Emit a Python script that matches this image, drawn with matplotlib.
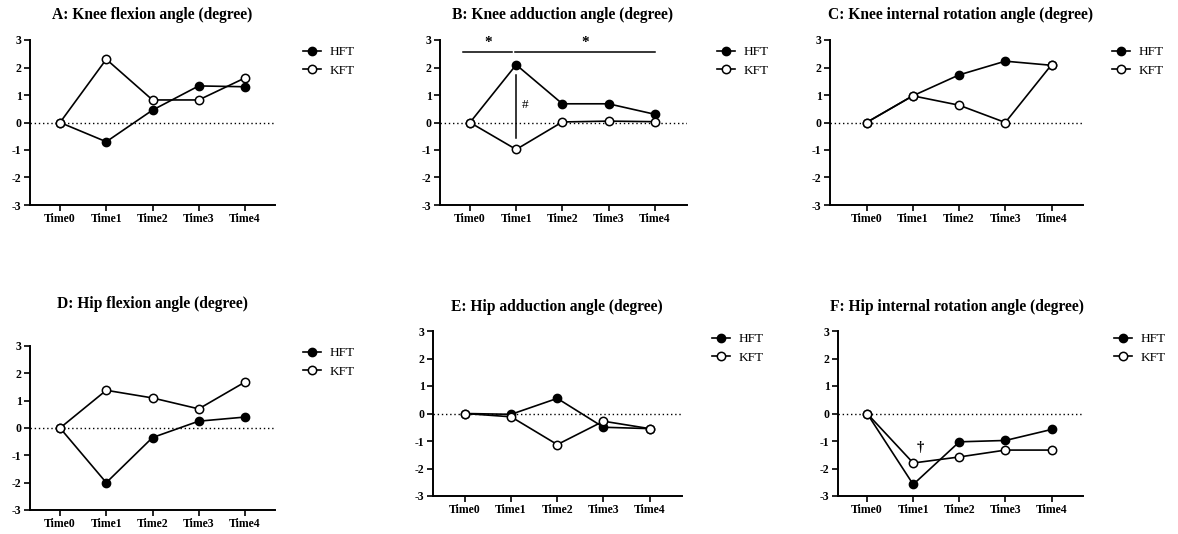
#!/usr/bin/env python3
"""Six-panel knee/hip angle change plot, HFT vs KFT over Time0-Time4."""

import matplotlib

matplotlib.use("Agg")
import matplotlib.pyplot as plt

plt.rcParams["font.family"] = ["Liberation Serif", "DejaVu Serif"]
plt.rcParams["axes.unicode_minus"] = False

TIMES = ["Time0", "Time1", "Time2", "Time3", "Time4"]

TITLES = [
    "A: Knee flexion angle (degree)",
    "B: Knee adduction angle (degree)",
    "C: Knee internal rotation angle (degree)",
    "D: Hip flexion angle (degree)",
    "E: Hip adduction angle (degree)",
    "F: Hip internal rotation angle (degree)",
]

HFT_A = [0, -0.70, 0.45, 1.33, 1.30]
KFT_A = [0, 2.30, 0.82, 0.82, 1.62]
HFT_B = [0, 2.10, 0.68, 0.68, 0.30]
KFT_B = [0, -0.98, 0.02, 0.05, 0.03]
HFT_C = [0, 0.97, 1.73, 2.23, 2.08]
KFT_C = [0, 0.97, 0.63, 0.00, 2.10]
HFT_D = [0, -2.00, -0.35, 0.25, 0.40]
KFT_D = [0, 1.38, 1.10, 0.70, 1.68]
HFT_E = [0, -0.03, 0.55, -0.50, -0.55]
KFT_E = [0, -0.12, -1.13, -0.28, -0.55]
HFT_F = [0, -2.58, -1.03, -0.98, -0.58]
KFT_F = [0, -1.80, -1.58, -1.33, -1.33]

HFT = [HFT_A, HFT_B, HFT_C, HFT_D, HFT_E, HFT_F]
KFT = [KFT_A, KFT_B, KFT_C, KFT_D, KFT_E, KFT_F]

W, H = 1178, 534

# pixel layout: (axis left, axis right, y=3 row, y=-3 row, xlim lo, xlim hi)
PANELS = [
    (30, 275, 40, 205, -0.65, 4.65),
    (440, 687, 40, 205, -0.65, 4.70),
    (830, 1083, 40, 205, -0.79, 4.68),
    (30, 275, 346, 510, -0.65, 4.65),
    (433, 682, 331, 496, -0.69, 4.70),
    (838, 1083, 331, 496, -0.63, 4.68),
]
TITLE_POS = [(152, 15), (563, 15), (960, 15), (152, 304), (557, 307), (957, 307)]
LEGEND_POS = [(303, 46), (717, 46), (1112, 46), (303, 347), (712, 333), (1114, 333)]

fig = plt.figure(figsize=(W / 100, H / 100), dpi=100)

for i in range(6):
    x0, x1, yt, yb, lo, hi = PANELS[i]
    ax = fig.add_axes([x0 / W, 1 - yb / H, (x1 - x0) / W, (yb - yt) / H])
    xs = range(len(TIMES))
    ax.axhline(0, color="black", linestyle=(0, (1, 2)), linewidth=1.0, zorder=1)
    ax.plot(xs, HFT[i], color="black", linewidth=1.2, marker="o", markersize=6,
            markerfacecolor="black", markeredgecolor="black", label="HFT", zorder=3)
    ax.plot(xs, KFT[i], color="black", linewidth=1.2, marker="o", markersize=6,
            markerfacecolor="white", markeredgecolor="black", markeredgewidth=1.1,
            label="KFT", zorder=3)
    ax.set_xlim(lo, hi)
    ax.set_ylim(-3, 3)
    ax.set_yticks(range(-3, 4))
    ax.set_xticks(list(xs))
    ax.set_xticklabels(TIMES)
    for side in ("top", "right"):
        ax.spines[side].set_visible(False)
    for side in ("left", "bottom"):
        ax.spines[side].set_linewidth(1.4)
    ax.tick_params(direction="out", length=4, width=1.2, labelsize=8.5, pad=2)
    for lab in ax.get_xticklabels() + ax.get_yticklabels():
        lab.set_fontweight("bold")
    ax.patch.set_alpha(0)

    tx, ty = TITLE_POS[i]
    fig.text(tx / W, 1 - ty / H, TITLES[i], ha="center", va="center",
             fontsize=11.2, fontweight="bold")

    lx, ly = LEGEND_POS[i]
    ax.legend(loc="upper left", bbox_to_anchor=(lx / W, 1 - ly / H),
              bbox_transform=fig.transFigure, frameon=False, fontsize=9.5,
              handlelength=1.4, handletextpad=0.6, labelspacing=0.5,
              borderaxespad=0, borderpad=0)

    if i == 1:
        ax.plot([-0.15, 0.9], [2.57, 2.57], color="black", linewidth=1.1)
        ax.plot([0.97, 4.0], [2.57, 2.57], color="black", linewidth=1.1)
        ax.text(0.39, 2.9, "*", ha="center", va="center", fontsize=11, fontweight="bold")
        ax.text(2.49, 2.9, "*", ha="center", va="center", fontsize=11, fontweight="bold")
        ax.plot([1, 1], [1.73, -0.56], color="black", linewidth=1.1)
        ax.text(1.12, 0.64, "#", ha="left", va="center", fontsize=9.5)
    if i == 5:
        ax.text(1.15, -1.22, "\u2020", ha="center", va="center", fontsize=10.5, fontweight="bold")

fig.savefig("out.png", dpi=100)
